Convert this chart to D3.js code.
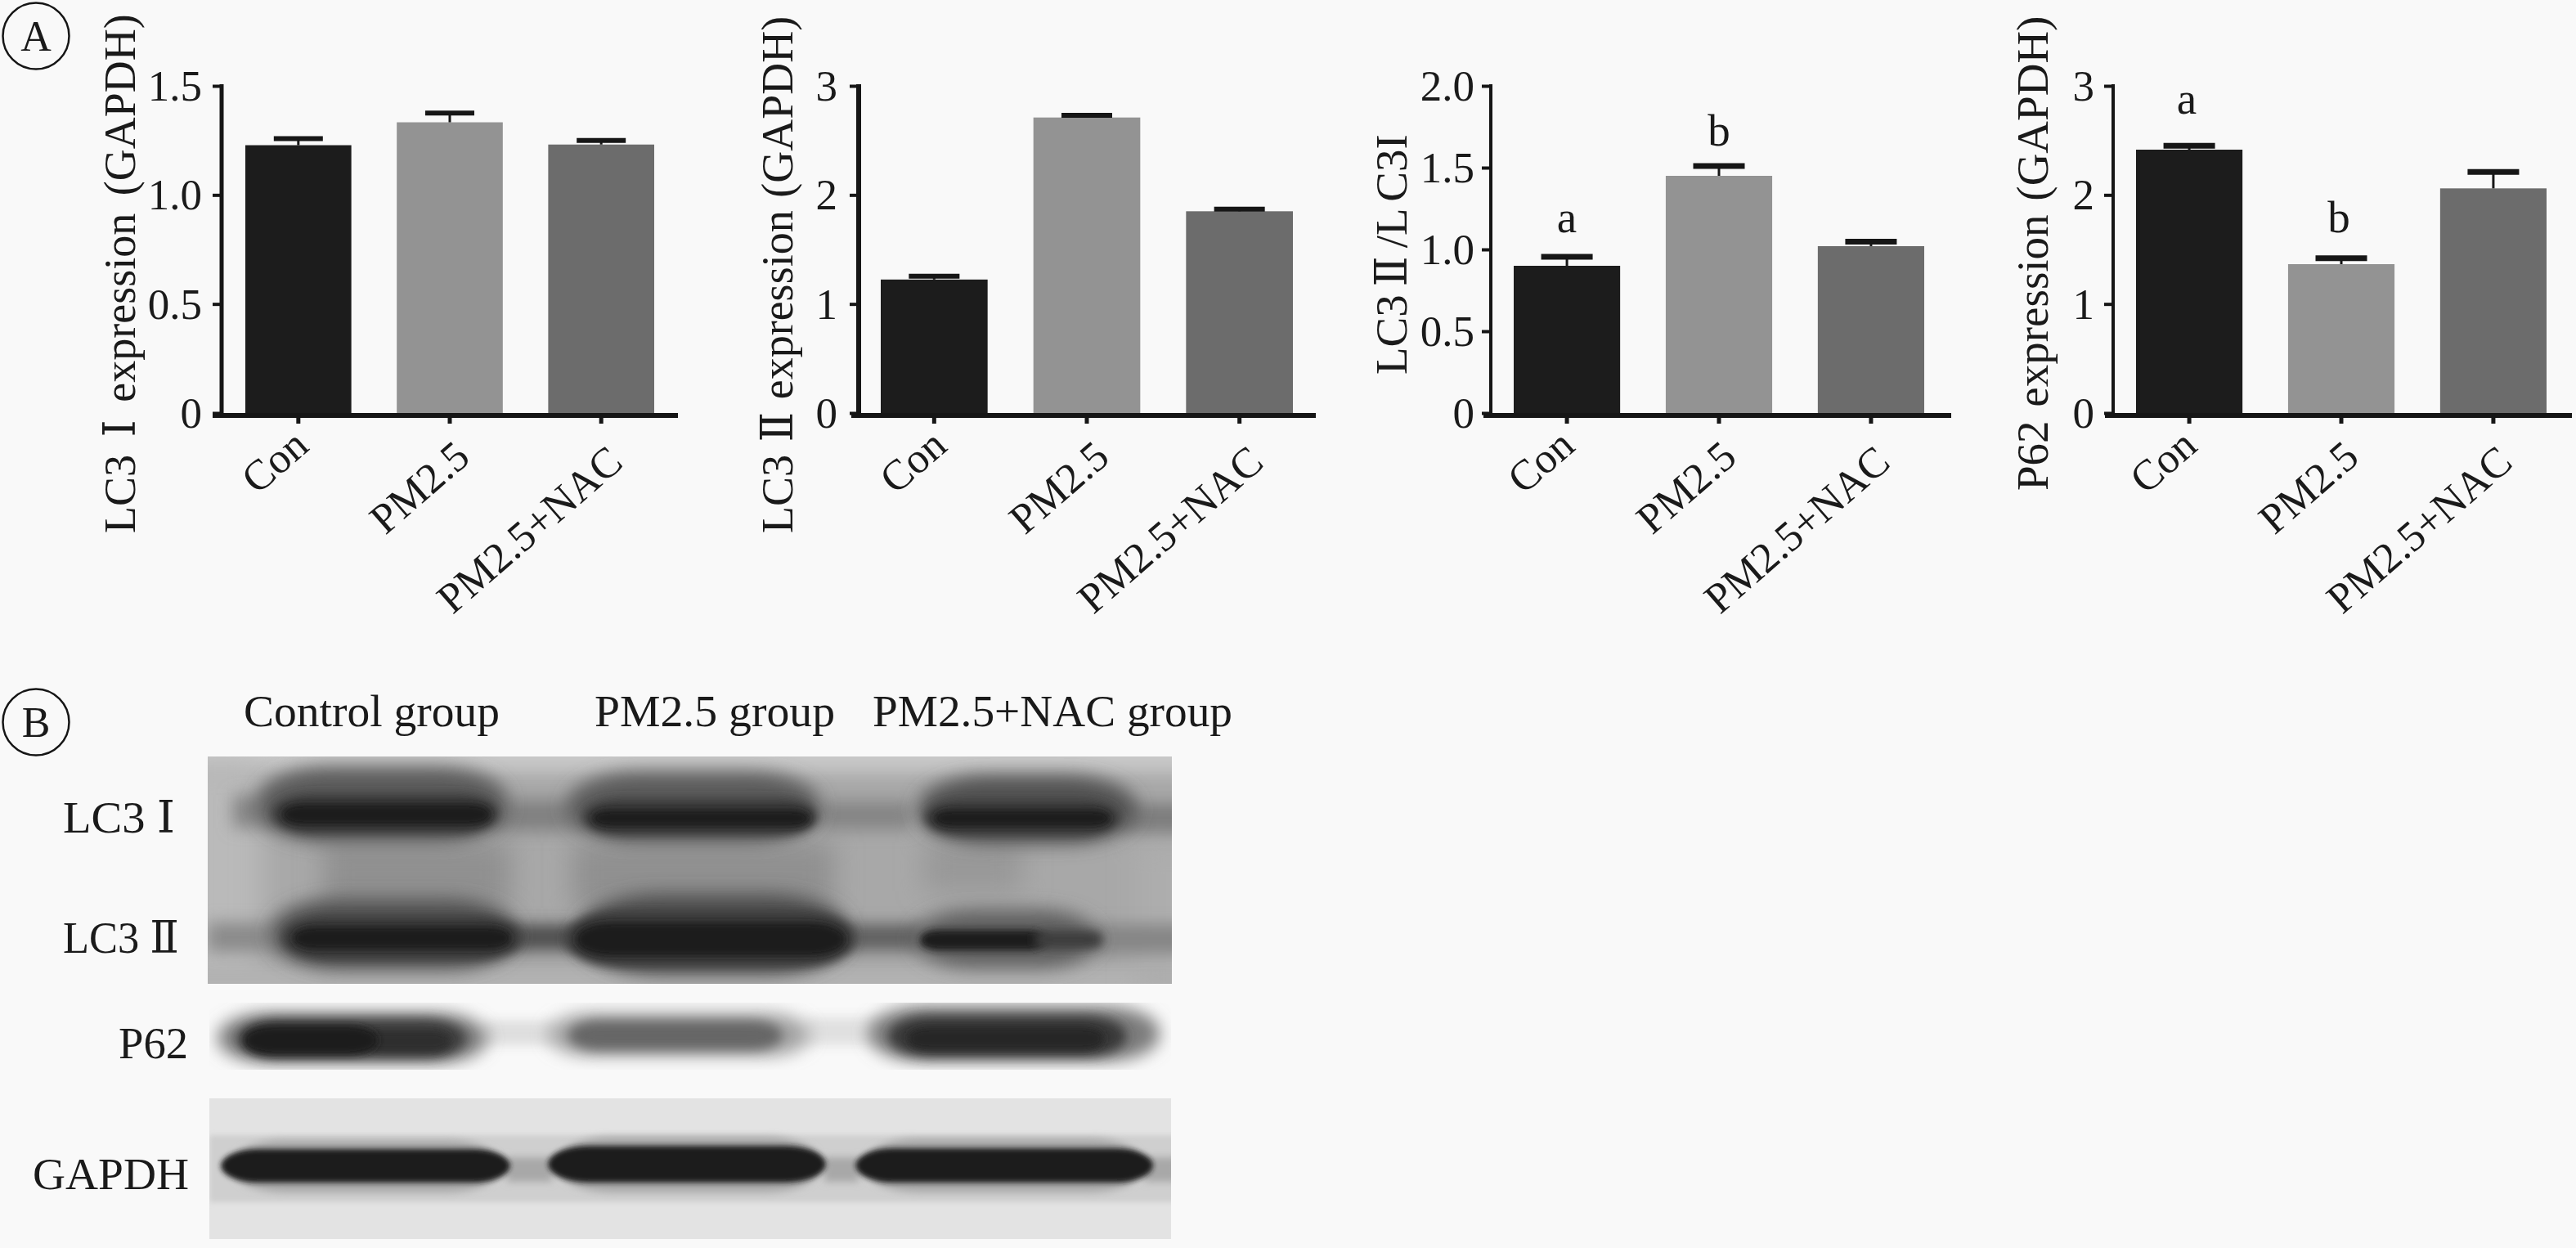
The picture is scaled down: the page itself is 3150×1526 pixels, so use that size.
<!DOCTYPE html>
<html><head><meta charset="utf-8">
<script src="https://cdn.jsdelivr.net/npm/d3@7"></script>
<style>
html,body{margin:0;padding:0;background:#f9f9f9}
svg{display:block}
text{font-family:'Liberation Serif','DejaVu Serif',serif;fill:#1a1a1a}
</style></head><body>
<svg id="c" width="3150" height="1526"></svg>
<script>
// ---------- data ----------
const categories = ["Con","PM2.5","PM2.5+NAC"];
const lc3iValues = [1.228,1.333,1.231];
const lc3iErrors = [0.03,0.042,0.019];
const lc3iiValues = [1.224,2.71,1.85];
const lc3iiErrors = [0.03,0.02,0.02];
const ratioValues = [0.90,1.45,1.02];
const ratioErrors = [0.055,0.06,0.027];
const p62Values = [2.415,1.365,2.06];
const p62Errors = [0.035,0.055,0.15];
const lc3iTicks = [0,0.5,1.0,1.5];
const lc3iiTicks = [0,1,2,3];
const ratioTicks = [0,0.5,1.0,1.5,2.0];
const p62Ticks = [0,1,2,3];
const ratioMarks = ["a","b",""];
const p62Marks = ["a","b",""];
const lc3iTitle = "LC3 Ⅰ expression (GAPDH)";
const lc3iiTitle = "LC3 Ⅱ expression (GAPDH)";
const ratioTitle = "LC3 Ⅱ /L C3I";
const p62Title = "P62 expression (GAPDH)";
const groupLabels = ["Control group","PM2.5 group","PM2.5+NAC group"];
const proteinLabels = ["LC3 Ⅰ","LC3 Ⅱ","P62","GAPDH"];

// ---------- layout ----------
const barColors = ["#1c1c1c","#939393","#6c6c6c"];
const ink = "#161616";
const svg = d3.select("#c");
svg.append("rect").attr("width",3150).attr("height",1526).attr("fill","#f9f9f9");
const yTop = 105, yBase = 505;
const fs = 55, tickFs = 53, catFs = 52;
const labelShiftX = [-6,6,8];
const labelShiftY = [-20,-6,0];

const panels = [
 {values:lc3iValues,errors:lc3iErrors,ticks:lc3iTicks,title:lc3iTitle,marks:null,axisW:5,ws:8,titleFs:54,labelDx:21,
  axisX:271,domain:[260,829],bars:[300,800],titleX:165,titleY:652,labelEnd:247,max:1.5,capW:60,capH:6},
 {values:lc3iiValues,errors:lc3iiErrors,ticks:lc3iiTicks,title:lc3iiTitle,marks:null,axisW:6,ws:2,titleFs:54,labelDx:24,
  axisX:1050,domain:[1041,1609],bars:[1077,1581],titleX:969,titleY:652,labelEnd:1024,max:3,capW:62,capH:6},
 {values:ratioValues,errors:ratioErrors,ticks:ratioTicks,title:ratioTitle,marks:ratioMarks,markY:[284,178],axisW:4,ws:-4,titleFs:55,labelDx:18,
  axisX:1823,domain:[1814,2386],bars:[1851,2353],titleX:1720,titleY:458,labelEnd:1803,max:2,capW:63,capH:7},
 {values:p62Values,errors:p62Errors,ticks:p62Ticks,title:p62Title,marks:p62Marks,markY:[139,284],axisW:4,ws:3,titleFs:55,labelDx:18,
  axisX:2584,domain:[2574,3145],bars:[2612,3114],titleX:2504,titleY:600,labelEnd:2561,max:3,capW:63,capH:7}
];

panels.forEach(p=>{
  const g = svg.append("g");
  const x = d3.scaleBand().domain(categories).range(p.bars).paddingInner(0.3).paddingOuter(0);
  const y = d3.scaleLinear().domain([0,p.max]).range([yBase,yTop]);

  g.selectAll("rect.bar").data(categories).join("rect").attr("class","bar")
    .attr("x",d=>x(d)).attr("width",x.bandwidth())
    .attr("y",(d,i)=>y(p.values[i])).attr("height",(d,i)=>yBase-y(p.values[i]))
    .attr("fill",(d,i)=>barColors[i]);

  const eb = g.selectAll("g.err").data(categories).join("g").attr("class","err");
  eb.append("line")
    .attr("x1",d=>x(d)+x.bandwidth()/2).attr("x2",d=>x(d)+x.bandwidth()/2)
    .attr("y1",(d,i)=>y(p.values[i])).attr("y2",(d,i)=>y(p.values[i]+p.errors[i]))
    .attr("stroke",ink).attr("stroke-width",3);
  eb.append("line")
    .attr("x1",d=>x(d)+x.bandwidth()/2-p.capW/2).attr("x2",d=>x(d)+x.bandwidth()/2+p.capW/2)
    .attr("y1",(d,i)=>y(p.values[i]+p.errors[i])).attr("y2",(d,i)=>y(p.values[i]+p.errors[i]))
    .attr("stroke",ink).attr("stroke-width",p.capH);

  const fmt = p.max===3 ? d3.format("d") : (d=>d===0?"0":d3.format(".1f")(d));
  const ya = g.append("g").attr("transform",`translate(${p.axisX},0)`)
    .call(d3.axisLeft(y).tickValues(p.ticks).tickFormat(fmt).tickSize(11).tickSizeOuter(0)
      .tickPadding(p.axisX-p.labelEnd-11));
  ya.select(".domain").attr("stroke",ink).attr("stroke-width",p.axisW).attr("d",`M0,${yTop-2}V${yBase}`);
  ya.selectAll(".tick line").attr("stroke",ink).attr("stroke-width",4);
  ya.selectAll(".tick text").attr("font-size",tickFs).attr("font-family","Liberation Serif").attr("dy","0.33em").attr("fill","#1a1a1a");

  const xa = g.append("g").attr("transform",`translate(0,${yBase+3})`)
    .call(d3.axisBottom(x).tickSize(10).tickSizeOuter(0).tickFormat(""));
  xa.select(".domain").attr("stroke",ink).attr("stroke-width",6).attr("d",`M${p.domain[0]},0H${p.domain[1]}`);
  xa.selectAll(".tick line").attr("stroke",ink).attr("stroke-width",5);

  g.selectAll("text.cat").data(categories).join("text").attr("class","cat")
    .attr("text-anchor","end").attr("font-size",catFs)
    .attr("transform",(d,i)=>`translate(${x(d)+x.bandwidth()/2+p.labelDx+labelShiftX[i]},${yBase+64+labelShiftY[i]}) rotate(-41)`)
    .text(d=>d);

  g.append("text").attr("font-size",p.titleFs).attr("word-spacing",p.ws)
    .attr("transform",`translate(${p.titleX},${p.titleY}) rotate(-90)`)
    .text(p.title);

  if(p.marks){
    g.selectAll("text.mark").data(categories).join("text").attr("class","mark")
      .attr("text-anchor","middle").attr("font-size",fs)
      .attr("x",d=>x(d)+x.bandwidth()/2+(p.max===3?-3:0))
      .attr("y",(d,i)=>p.markY[i]||0)
      .text((d,i)=>p.marks[i]);
  }
});

[["A",44,44,62],["B",44,883,901]].forEach(([t,cx,cy,by])=>{
  svg.append("circle").attr("cx",cx).attr("cy",cy).attr("r",40.5)
    .attr("fill","none").attr("stroke",ink).attr("stroke-width",2.5);
  svg.append("text").attr("x",cx).attr("y",by).attr("text-anchor","middle").attr("font-size",52).text(t);
});

// ---------- panel B (blot) ----------
const defs = svg.append("defs");
d3.range(1,31).forEach(s=>{
  defs.append("filter").attr("id","b"+s).attr("filterUnits","userSpaceOnUse")
    .attr("x",0).attr("y",800).attr("width",1600).attr("height",726)
    .append("feGaussianBlur").attr("stdDeviation",s);
});
const clip = (id,x,y,w,h)=>defs.append("clipPath").attr("id",id).append("rect").attr("x",x).attr("y",y).attr("width",w).attr("height",h);
clip("lc3",254,925,1179,278);
clip("gap",256,1343,1176,172);
clip("p62",256,1226,1176,82);

function layer(group,rows){
  group.selectAll(null).data(rows).join("rect")
    .attr("x",d=>d[0]).attr("width",d=>d[1]-d[0])
    .attr("y",d=>d[2]).attr("height",d=>d[3]-d[2])
    .attr("fill",d=>d[4])
    .attr("rx",d=>(d[6]||0)*2.2).attr("ry",d=>d[6]||0)
    .attr("filter",d=>d[5]?`url(#b${d[5]})`:null);
}

// LC3 membrane
const lc3 = svg.append("g").attr("clip-path","url(#lc3)");
lc3.append("rect").attr("x",254).attr("y",925).attr("width",1179).attr("height",278).attr("fill","#a8a8a8");
layer(lc3,[
  [220,1470,895,945,"#c8c8c8",10],
  [220,320,930,1200,"#bababa",18],
  [220,1470,1184,1230,"#b2b2b2",8],
  [1390,1470,1030,1220,"#adadad",16],
  [395,625,1030,1110,"#909090",16],
  [700,1020,1030,1110,"#909090",16],
  [1130,1250,1030,1090,"#989898",16],
  // LC3 I: gaps between lanes
  [600,715,978,1016,"#808080",10],
  [1000,1115,980,1014,"#848484",10],
  [1370,1470,982,1018,"#7e7e7e",9],
  [285,340,972,1012,"#858585",10],
  // LC3 I halos
  [316,620,938,1030,"#5c5c5c",11,40],
  [694,1003,944,1030,"#5c5c5c",11,40],
  [1122,1390,948,1032,"#525252",11,40],
  // LC3 II: gaps between lanes
  [615,705,1130,1162,"#505050",9],
  [1030,1130,1130,1162,"#606060",9],
  [1335,1470,1130,1166,"#868686",9],
  [254,345,1128,1164,"#8a8a8a",10],
  // LC3 II halos
  [332,632,1098,1186,"#525252",11,40],
  [707,1038,1092,1192,"#505050",11,46],
  [1118,1343,1112,1184,"#606060",11,34],
]);
layer(lc3,[
  [332,610,970,1020,"#3a3a3a",6,24],
  [712,1000,976,1022,"#3a3a3a",6,22],
  [1130,1370,978,1022,"#3a3a3a",6,22],
  [345,638,1120,1174,"#3a3a3a",6,26],
  [690,1046,1114,1182,"#3a3a3a",6,32],
  [345,600,983,1009,"#1b1b1b",4,12],
  [724,990,990,1011,"#1b1b1b",4,10],
  [1142,1358,990,1011,"#1b1b1b",4,10],
  [358,625,1133,1161,"#1b1b1b",4,13],
  [704,1034,1128,1169,"#1b1b1b",4,20],
  [1125,1280,1137,1162,"#1c1c1c",4,11],
  [1265,1348,1138,1160,"#3c3c3c",6,8],
]);

// P62 strip
const p62 = svg.append("g").attr("clip-path","url(#p62)");
layer(p62,[
  [590,680,1248,1278,"#dedede",7],
  [985,1080,1244,1278,"#e0e0e0",7],
  [266,596,1238,1300,"#7c7c7c",10,30],
  [670,991,1238,1292,"#a4a4a4",10,26],
  [1062,1418,1230,1298,"#7c7c7c",10,32],
  [290,570,1246,1294,"#3c3c3c",7,24],
  [695,957,1248,1284,"#666666",7,18],
  [1087,1377,1242,1292,"#383838",7,24],
  [445,550,1260,1286,"#2e2e2e",5,10],
  [298,462,1254,1290,"#1b1b1b",5,16],
  [1110,1350,1256,1284,"#282828",4,12],
]);

// GAPDH strip
const gap = svg.append("g").attr("clip-path","url(#gap)");
gap.append("rect").attr("x",256).attr("y",1343).attr("width",1176).attr("height",172).attr("fill","#e3e3e3");
layer(gap,[
  [256,1440,1388,1470,"#cfcfcf",3],
  [620,675,1415,1445,"#a8a8a8",5],
  [1008,1050,1415,1445,"#a8a8a8",5],
  [1400,1440,1415,1445,"#a8a8a8",5],
  [285,610,1394,1458,"#a8a8a8",5,28],
  [685,1000,1390,1458,"#a8a8a8",5,28],
  [1060,1395,1392,1458,"#a8a8a8",5,28],
  [270,624,1405,1446,"#1b1b1b",3,21],
  [670,1010,1401,1446,"#1b1b1b",3,23],
  [1046,1410,1404,1446,"#1b1b1b",3,21],
]);

// Blot labels
const groupPos = [[298,611],[727,1021],[1067,1507]];
svg.selectAll("text.grp").data(groupLabels).join("text").attr("class","grp")
  .attr("font-size",fs).attr("y",888)
  .attr("x",(d,i)=>groupPos[i][0])
  .attr("textLength",(d,i)=>groupPos[i][1]-groupPos[i][0]).attr("lengthAdjust","spacingAndGlyphs")
  .text(d=>d);
const protPos = [[77,214,1018],[77,219,1165],[145,230,1294],[40,231,1454]];
svg.selectAll("text.prot").data(proteinLabels).join("text").attr("class","prot")
  .attr("font-size",fs).attr("x",(d,i)=>protPos[i][0]).attr("y",(d,i)=>protPos[i][2])
  .attr("textLength",(d,i)=>protPos[i][1]-protPos[i][0]).attr("lengthAdjust","spacingAndGlyphs")
  .text(d=>d);
</script>
</body></html>
